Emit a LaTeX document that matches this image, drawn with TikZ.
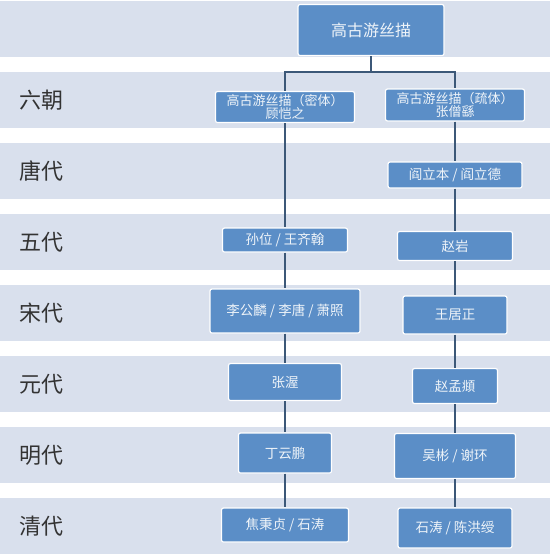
\documentclass[tikz,border=0pt]{standalone}
\usepackage{fontspec}
\setmainfont{Noto Sans CJK SC}
\usetikzlibrary{positioning}

\definecolor{bandgray}{RGB}{217,224,237}
\definecolor{boxblue}{RGB}{91,142,199}
\definecolor{linkblue}{RGB}{60,88,120}

\begin{document}
\begin{tikzpicture}[
  x=1pt, y=-1pt,
  font=\fontsize{13.5}{15}\selectfont,
  era/.style={font=\fontsize{22}{24}\selectfont, text=black!80, anchor=west},
  person/.style={rectangle, rounded corners=2pt, draw=white, line width=1.2pt, fill=boxblue, text=white!90!boxblue, inner sep=0pt, align=center},
  trunk/.style={draw=linkblue, line width=1.5pt}
]
\useasboundingbox (0,0) rectangle (550,555);

\foreach \i in {0,...,7} {
  \fill[bandgray] (0,71*\i+1) rectangle (550,71*\i+57);
}

\node[era] (e1) at (16,100) {六朝};
\node[era] (e2) at (16,171) {唐代};
\node[era] (e3) at (16,242) {五代};
\node[era] (e4) at (16,313) {宋代};
\node[era] (e5) at (16,384) {元代};
\node[era] (e6) at (16,455) {明代};
\node[era] (e7) at (16,526) {清代};

\node[person, minimum width=146, minimum height=51, font=\fontsize{16}{18}\selectfont] (root) at (371,30) {高古游丝描};

\node[person, minimum width=139, minimum height=31, font=\fontsize{13}{13.5}\selectfont] (mi1) at (285,107) {高古游丝描（密体）\\顾恺之};
\node[person, minimum width=125, minimum height=24] (mi3) at (285,240) {孙位 / 王齐翰};
\node[person, minimum width=150, minimum height=44] (mi4) at (285,311) {李公麟 / 李唐 / 萧照};
\node[person, minimum width=113, minimum height=37] (mi5) at (285,382) {张渥};
\node[person, minimum width=93, minimum height=40] (mi6) at (285,453) {丁云鹏};
\node[person, minimum width=127, minimum height=34] (mi7) at (285,525) {焦秉贞 / 石涛};

\node[person, minimum width=139, minimum height=32, font=\fontsize{13}{13.5}\selectfont] (shu1) at (455,105) {高古游丝描（疏体）\\张僧繇};
\node[person, minimum width=134, minimum height=26] (shu2) at (455,175) {阎立本 / 阎立德};
\node[person, minimum width=115, minimum height=29] (shu3) at (455,246) {赵岩};
\node[person, minimum width=104, minimum height=38] (shu4) at (455,315) {王居正};
\node[person, minimum width=85, minimum height=35] (shu5) at (455,386) {赵孟頫};
\node[person, minimum width=121, minimum height=45] (shu6) at (455,456) {吴彬 / 谢环};
\node[person, minimum width=114, minimum height=40] (shu7) at (455,528) {石涛 / 陈洪绶};

\coordinate (jn) at (371,72);
\draw[trunk] (root) -- (jn) -| (mi1);
\draw[trunk] (jn) -| (shu1);

\draw[trunk] (mi1) -- (mi3);
\draw[trunk] (mi3) -- (mi4);
\draw[trunk] (mi4) -- (mi5);
\draw[trunk] (mi5) -- (mi6);
\draw[trunk] (mi6) -- (mi7);

\draw[trunk] (shu1) -- (shu2);
\draw[trunk] (shu2) -- (shu3);
\draw[trunk] (shu3) -- (shu4);
\draw[trunk] (shu4) -- (shu5);
\draw[trunk] (shu5) -- (shu6);
\draw[trunk] (shu6) -- (shu7);

\end{tikzpicture}
\end{document}
